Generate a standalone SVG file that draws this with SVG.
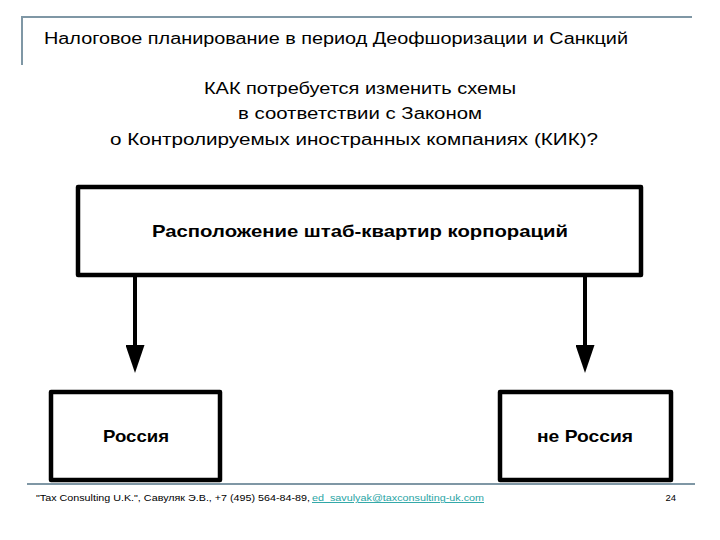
<svg xmlns="http://www.w3.org/2000/svg" width="720" height="540" viewBox="0 0 720 540">
<style>
.frame{stroke:#7f97a5;stroke-width:2;fill:none}
.box{fill:#fff;stroke:#000;stroke-width:4.5;stroke-linejoin:round}
.t{font-family:"Liberation Sans","DejaVu Sans",sans-serif;fill:#000}
.b{font-weight:bold}
.conn{stroke:#000;stroke-width:4;fill:none}
</style>
<defs>
<marker id="ah" viewBox="0 0 10 10" refX="5.36" refY="5" markerUnits="userSpaceOnUse" markerWidth="28" markerHeight="19" orient="auto" preserveAspectRatio="none">
<path d="M0,0 L10,5 L0,10 Z" fill="#000"/>
</marker>
</defs>
<rect width="720" height="540" fill="#fff"/>
<g id="frame">
<path class="frame" d="M22,65 V17 H692"/>
<path class="frame" d="M27,484 H695"/>
</g>
<g id="title">
<text class="t" x="44" y="44" font-size="16" textLength="584" lengthAdjust="spacingAndGlyphs">Налоговое планирование в период Деофшоризации и Санкций</text>
</g>
<g id="question" class="t" font-size="16" text-anchor="middle">
<text x="360" y="94" textLength="312" lengthAdjust="spacingAndGlyphs">КАК потребуется изменить схемы</text>
<text x="360" y="119" textLength="244" lengthAdjust="spacingAndGlyphs">в соответствии с Законом</text>
<text x="354" y="145" textLength="488" lengthAdjust="spacingAndGlyphs">о Контролируемых иностранных компаниях (КИК)?</text>
</g>
<g id="connectors">
<line class="conn" x1="135" y1="275" x2="135" y2="360" marker-end="url(#ah)"/>
<line class="conn" x1="585" y1="275" x2="585" y2="360" marker-end="url(#ah)"/>
</g>
<g id="hq">
<rect class="box" x="78" y="187" width="563" height="88"/>
<text class="t b" x="360" y="237" font-size="17" text-anchor="middle" textLength="416" lengthAdjust="spacingAndGlyphs">Расположение штаб-квартир корпораций</text>
</g>
<g id="russia">
<rect class="box" x="51" y="392" width="169" height="88"/>
<text class="t b" x="136" y="442" font-size="17" text-anchor="middle" textLength="66" lengthAdjust="spacingAndGlyphs">Россия</text>
</g>
<g id="not-russia">
<rect class="box" x="500" y="392" width="171" height="88"/>
<text class="t b" x="585" y="442" font-size="17" text-anchor="middle" textLength="96" lengthAdjust="spacingAndGlyphs">не Россия</text>
</g>
<g id="footer" class="t" font-size="9.5">
<text x="36" y="501" textLength="274" lengthAdjust="spacingAndGlyphs">"Tax Consulting U.K.", Савуляк Э.В., +7 (495) 564-84-89, </text>
<text x="312" y="501" fill="#2aa5a5" text-decoration="underline" textLength="172" lengthAdjust="spacingAndGlyphs">ed_savulyak@taxconsulting-uk.com</text>
<text x="676" y="501" text-anchor="end">24</text>
</g>
</svg>
